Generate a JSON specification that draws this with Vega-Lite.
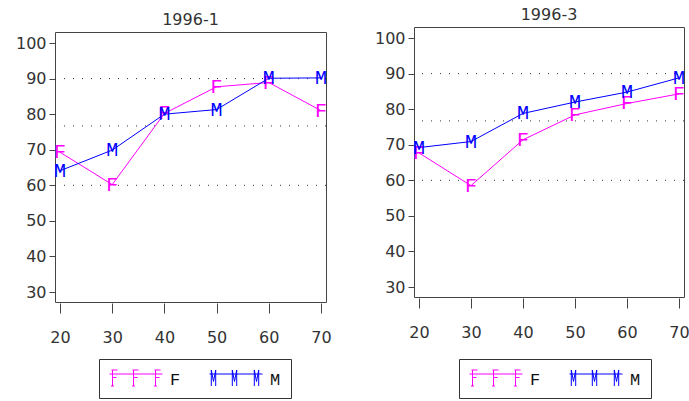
{
  "$schema": "https://vega.github.io/schema/vega-lite/v6.json",
  "background": "white",
  "padding": {"left": 14, "top": 5, "right": 0, "bottom": 0},
  "spacing": 41,
  "datasets": {
    "p1": [
      {"age": 20, "sex": "F", "score": 69.3},
      {"age": 30, "sex": "F", "score": 60.2},
      {"age": 40, "sex": "F", "score": 80.2},
      {"age": 50, "sex": "F", "score": 87.7},
      {"age": 60, "sex": "F", "score": 88.9},
      {"age": 70, "sex": "F", "score": 81.0},
      {"age": 20, "sex": "M", "score": 64.1},
      {"age": 30, "sex": "M", "score": 69.9},
      {"age": 40, "sex": "M", "score": 80.0},
      {"age": 50, "sex": "M", "score": 81.3},
      {"age": 60, "sex": "M", "score": 90.1},
      {"age": 70, "sex": "M", "score": 90.2}
    ],
    "p2": [
      {"age": 20, "sex": "F", "score": 67.7},
      {"age": 30, "sex": "F", "score": 58.5},
      {"age": 40, "sex": "F", "score": 71.4},
      {"age": 50, "sex": "F", "score": 78.4},
      {"age": 60, "sex": "F", "score": 81.6},
      {"age": 70, "sex": "F", "score": 84.3},
      {"age": 20, "sex": "M", "score": 69.2},
      {"age": 30, "sex": "M", "score": 70.9},
      {"age": 40, "sex": "M", "score": 78.8},
      {"age": 50, "sex": "M", "score": 82.0},
      {"age": 60, "sex": "M", "score": 84.8},
      {"age": 70, "sex": "M", "score": 88.8}
    ],
    "grid": [{"v": 60}, {"v": 76.7}, {"v": 90}],
    "none": []
  },
  "resolve": {
    "scale": {"color": "independent", "x": "independent", "y": "independent"},
    "legend": {"color": "independent"}
  },
  "config": {
    "view": {"stroke": "#444", "strokeWidth": 1},
    "font": "DejaVu Sans",
    "axis": {"labelFont": "DejaVu Sans", "labelFontSize": 16, "labelColor": "#333", "tickColor": "#444", "domain": false, "grid": false, "title": null, "labelOverlap": false, "labelFlush": false, "labelBound": false},
    "axisY": {"tickSize": 6, "labelPadding": 3},
    "axisX": {"tickSize": 10, "labelPadding": 16, "offset": 1},
    "title": {"font": "DejaVu Sans", "fontSize": 16, "fontWeight": "normal", "color": "#333", "offset": 4},
    "legend": {
      "orient": "none",
      "direction": "horizontal",
      "title": null,
      "strokeColor": "#333",
      "padding": 10,
      "symbolSize": 400,
      "symbolStrokeWidth": 1,
      "symbolFillColor": "transparent",
      "labelFont": "Liberation Mono",
      "labelFontSize": 17,
      "labelColor": "#111",
      "labelOffset": 40,
      "columnPadding": 26
    }
  },
  "hconcat": [
    {
      "spacing": 5,
      "resolve": {
        "scale": {"color": "independent", "x": "independent", "y": "independent"},
        "legend": {"color": "independent"}
      },
      "vconcat": [
        {"width": 1, "height": 1, "view": {"stroke": null, "fill": null}, "data": {"name": "none"}, "mark": {"type": "point", "opacity": 0}},
        {
          "title": {"text": "1996-1"},
          "width": 271,
          "height": 270,
          "layer": [
            {
              "data": {"name": "grid"},
              "mark": {"type": "rule", "strokeDash": [1, 8], "color": "#333", "strokeWidth": 1},
              "encoding": {
                "y": {"field": "v", "type": "quantitative", "scale": {"domain": [27.2, 103.1], "nice": false, "zero": false}, "axis": {"values": [30, 40, 50, 60, 70, 80, 90, 100], "labelOverlap": false}}
              }
            },
            {
              "data": {"name": "p1"},
              "mark": {"type": "line", "strokeWidth": 1},
              "encoding": {
                "x": {"field": "age", "type": "quantitative", "scale": {"domain": [19.04, 70.96], "nice": false, "zero": false}, "axis": {"values": [20, 30, 40, 50, 60, 70], "format": "d", "labelOverlap": false}},
                "y": {"field": "score", "type": "quantitative", "scale": {"domain": [27.2, 103.1], "nice": false, "zero": false}, "axis": {"values": [30, 40, 50, 60, 70, 80, 90, 100], "labelOverlap": false}},
                "color": {
                  "field": "sex", "type": "nominal",
                  "scale": {"domain": ["F", "M"], "range": ["#ff00ff", "#0000ff"]},
                  "legend": {
                    "legendX": 44, "legendY": 327,
                    "encode": {"symbols": {"update": {
                      "fill": {"value": "transparent"},
                      "fillOpacity": {"value": 0},
                      "strokeWidth": {"value": 1},
                      "shape": {"signal": "datum.value === 'F' ? 'M-1,-0.55H4.3M-0.7,-0.95V0.65M-0.8,-0.95H-0.2M-0.7,-0.2H-0.3M-0.85,0.65H-0.55M1.4,-0.95V0.65M1.3,-0.95H1.9M1.4,-0.2H1.8M1.25,0.65H1.55M3.6,-0.95V0.65M3.5,-0.95H4.1M3.6,-0.2H4M3.45,0.65H3.75' : 'M-1,-0.55H4.3M-0.82,0.65V-0.95L-0.6,0.2L-0.38,-0.95V0.65M1.28,0.65V-0.95L1.5,0.2L1.72,-0.95V0.65M3.48,0.65V-0.95L3.7,0.2L3.92,-0.95V0.65'"}
                    }}}
                  }
                }
              }
            },
            {
              "data": {"name": "p1"},
              "mark": {"type": "text", "font": "Liberation Mono", "fontSize": 20, "baseline": "middle", "align": "center"},
              "encoding": {
                "x": {"field": "age", "type": "quantitative", "scale": {"domain": [19.04, 70.96], "nice": false, "zero": false}, "axis": {"values": [20, 30, 40, 50, 60, 70], "format": "d", "labelOverlap": false}},
                "y": {"field": "score", "type": "quantitative", "scale": {"domain": [27.2, 103.1], "nice": false, "zero": false}, "axis": {"values": [30, 40, 50, 60, 70, 80, 90, 100], "labelOverlap": false}},
                "text": {"field": "sex"},
                "color": {"field": "sex", "type": "nominal", "scale": {"domain": ["F", "M"], "range": ["#ff00ff", "#0000ff"]}}
              }
            }
          ]
        }
      ]
    },
    {
      "spacing": 0,
      "resolve": {
        "scale": {"color": "independent", "x": "independent", "y": "independent"},
        "legend": {"color": "independent"}
      },
      "vconcat": [
        {"width": 1, "height": 1, "view": {"stroke": null, "fill": null}, "data": {"name": "none"}, "mark": {"type": "point", "opacity": 0}},
        {
          "title": {"text": "1996-3"},
          "width": 270,
          "height": 270,
          "layer": [
            {
              "data": {"name": "grid"},
              "mark": {"type": "rule", "strokeDash": [1, 8], "color": "#333", "strokeWidth": 1},
              "encoding": {
                "y": {"field": "v", "type": "quantitative", "scale": {"domain": [27.2, 103.1], "nice": false, "zero": false}, "axis": {"values": [30, 40, 50, 60, 70, 80, 90, 100], "labelOverlap": false}}
              }
            },
            {
              "data": {"name": "p2"},
              "mark": {"type": "line", "strokeWidth": 1},
              "encoding": {
                "x": {"field": "age", "type": "quantitative", "scale": {"domain": [19.04, 70.96], "nice": false, "zero": false}, "axis": {"values": [20, 30, 40, 50, 60, 70], "format": "d", "labelOverlap": false}},
                "y": {"field": "score", "type": "quantitative", "scale": {"domain": [27.2, 103.1], "nice": false, "zero": false}, "axis": {"values": [30, 40, 50, 60, 70, 80, 90, 100], "labelOverlap": false}},
                "color": {
                  "field": "sex", "type": "nominal",
                  "scale": {"domain": ["F", "M"], "range": ["#ff00ff", "#0000ff"]},
                  "legend": {
                    "legendX": 45, "legendY": 332,
                    "encode": {"symbols": {"update": {
                      "fill": {"value": "transparent"},
                      "fillOpacity": {"value": 0},
                      "strokeWidth": {"value": 1},
                      "shape": {"signal": "datum.value === 'F' ? 'M-1,-0.55H4.3M-0.7,-0.95V0.65M-0.8,-0.95H-0.2M-0.7,-0.2H-0.3M-0.85,0.65H-0.55M1.4,-0.95V0.65M1.3,-0.95H1.9M1.4,-0.2H1.8M1.25,0.65H1.55M3.6,-0.95V0.65M3.5,-0.95H4.1M3.6,-0.2H4M3.45,0.65H3.75' : 'M-1,-0.55H4.3M-0.82,0.65V-0.95L-0.6,0.2L-0.38,-0.95V0.65M1.28,0.65V-0.95L1.5,0.2L1.72,-0.95V0.65M3.48,0.65V-0.95L3.7,0.2L3.92,-0.95V0.65'"}
                    }}}
                  }
                }
              }
            },
            {
              "data": {"name": "p2"},
              "mark": {"type": "text", "font": "Liberation Mono", "fontSize": 20, "baseline": "middle", "align": "center"},
              "encoding": {
                "x": {"field": "age", "type": "quantitative", "scale": {"domain": [19.04, 70.96], "nice": false, "zero": false}, "axis": {"values": [20, 30, 40, 50, 60, 70], "format": "d", "labelOverlap": false}},
                "y": {"field": "score", "type": "quantitative", "scale": {"domain": [27.2, 103.1], "nice": false, "zero": false}, "axis": {"values": [30, 40, 50, 60, 70, 80, 90, 100], "labelOverlap": false}},
                "text": {"field": "sex"},
                "color": {"field": "sex", "type": "nominal", "scale": {"domain": ["F", "M"], "range": ["#ff00ff", "#0000ff"]}}
              }
            }
          ]
        }
      ]
    }
  ]
}
